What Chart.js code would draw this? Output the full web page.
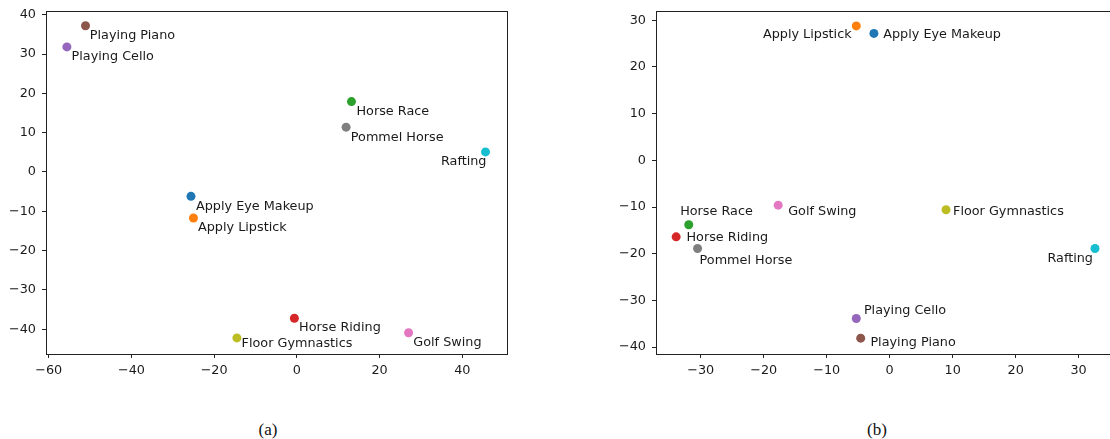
<!DOCTYPE html>
<html>
<head>
<meta charset="utf-8">
<script src="https://cdn.jsdelivr.net/npm/chart.js@4.4.1/dist/chart.umd.min.js"></script>
<style>
  html, body { margin: 0; padding: 0; background: #fff; }
  body { width: 1110px; height: 439px; position: relative; overflow: hidden; }
  .panel { position: absolute; top: 0; }
  #wrapA { left: 0; width: 520px; height: 400px; }
  #wrapB { left: 590px; width: 530px; height: 400px; }
  .caption { position: absolute; top: 420px; font-family: "Liberation Serif", "DejaVu Serif", serif;
             font-size: 17px; color: #111; transform: translateX(-50%); }
</style>
</head>
<body>
<div id="wrapA" class="panel"><canvas id="chartA"></canvas></div>
<div id="wrapB" class="panel"><canvas id="chartB"></canvas></div>
<div class="caption" style="left:268px">(a)</div>
<div class="caption" style="left:877px">(b)</div>
<script>
// Action classes, in the order their colours are assigned
const classes = ["Apply Eye Makeup", "Apply Lipstick", "Horse Race", "Horse Riding", "Playing Cello",
                 "Playing Piano", "Golf Swing", "Pommel Horse", "Floor Gymnastics", "Rafting"];
const colors = ["#1f77b4", "#ff7f0e", "#2ca02c", "#d62728", "#9467bd",
                "#8c564b", "#e377c2", "#7f7f7f", "#bcbd22", "#17becf"];

// Embedding (a)
const aX = [-25.6, -25.0, 13.2, -0.6, -55.6, -51.1, 27.0, 11.9, -14.5, 45.6];
const aY = [-6.2, -11.7, 17.9, -37.2, 31.8, 37.2, -40.9, 11.4, -42.2, 5.1];
// Embedding (b)
const bX = [-2.5, -5.3, -31.9, -33.9, -5.3, -4.6, -17.7, -30.5, 8.95, 32.6];
const bY = [27.2, 28.8, -13.8, -16.4, -33.9, -38.1, -9.6, -18.9, -10.6, -18.9];

// Tick labels
const aXTicks = [-60, -40, -20, 0, 20, 40];
const aYTicks = [-40, -30, -20, -10, 0, 10, 20, 30, 40];
const bXTicks = [-30, -20, -10, 0, 10, 20, 30];
const bYTicks = [-40, -30, -20, -10, 0, 10, 20, 30];

// Annotation placement relative to each point: [dx px, dy px, align]
const labelOffsetsA = [[5, 10, "left"], [4.5, 10, "left"], [5, 9.6, "left"], [4.7, 9.7, "left"],
  [4.7, 9.7, "left"], [4.3, 10, "left"], [4.7, 10, "left"], [4.7, 10.3, "left"],
  [4.7, 5.3, "left"], [1, 9.7, "right"]];
const labelOffsetsB = [[9.3, 1.7, "left"], [-4.7, 9, "right"], [-8.6, -13, "left"], [10.3, 0.7, "left"],
  [7.6, -8, "left"], [9.7, 4.4, "left"], [10, 6.4, "left"], [2, 12.4, "left"],
  [7, 1.7, "left"], [-2, 10.3, "right"]];

const FONT = "DejaVu Sans";
const FS = 12.8;
const INK = "#1a1a1a";

const fmt = v => (v < 0 ? "\u2212" + Math.abs(v) : String(v));

// Frame around the plotting area plus the text annotations next to points
const framePlugin = {
  id: "frameAndLabels",
  afterDatasetsDraw(chart, args, opts) {
    const { ctx, chartArea: a } = chart;
    ctx.save();
    ctx.strokeStyle = "#222";
    ctx.lineWidth = 1;
    ctx.strokeRect(Math.round(a.left) + 0.5, Math.round(a.top) + 0.5,
                   Math.round(a.right - a.left), Math.round(a.bottom - a.top));
    const meta = chart.getDatasetMeta(0);
    ctx.font = FS + "px '" + FONT + "'";
    ctx.fillStyle = INK;
    ctx.textBaseline = "middle";
    meta.data.forEach((pt, i) => {
      const [dx, dy, align] = opts.offsets[i];
      ctx.textAlign = align;
      ctx.fillText(classes[i], pt.x + dx, pt.y + dy);
    });
    ctx.restore();
  }
};

function makeChart(id, xs, ys, xr, yr, xt, yt, yWidth, pad, offsets) {
  const points = xs.map((x, i) => ({ x, y: ys[i] }));
  const tickCfg = (vals) => ({
    afterBuildTicks: s => { s.ticks = vals.map(v => ({ value: v })); }
  });
  const noPad = s => { s.paddingTop = 0; s.paddingBottom = 0; s.paddingLeft = 0; s.paddingRight = 0; };
  return new Chart(document.getElementById(id), {
    type: "scatter",
    data: {
      datasets: [{
        data: points,
        backgroundColor: colors,
        borderColor: colors,
        borderWidth: 0,
        pointRadius: 4.5,
        pointHoverRadius: 4.5
      }]
    },
    options: {
      responsive: true,
      maintainAspectRatio: false,
      animation: false,
      events: [],
      layout: { padding: pad },
      plugins: {
        legend: { display: false },
        tooltip: { enabled: false },
        frameAndLabels: { offsets }
      },
      scales: {
        x: Object.assign({
          type: "linear", min: xr[0], max: xr[1],
          grid: { display: true, drawOnChartArea: false, drawTicks: true, tickLength: 4, color: "#222", tickWidth: 1 },
          border: { display: true, color: "#222", width: 1 },
          ticks: { font: { family: FONT, size: FS }, color: INK, padding: 5, maxRotation: 0, callback: fmt },
          afterFit: s => { s.height = 46; noPad(s); }
        }, tickCfg(xt)),
        y: Object.assign({
          type: "linear", min: yr[0], max: yr[1],
          grid: { display: true, drawOnChartArea: false, drawTicks: true, tickLength: 4, color: "#222", tickWidth: 1 },
          border: { display: true, color: "#222", width: 1 },
          ticks: { font: { family: FONT, size: FS }, color: INK, padding: 6, callback: fmt },
          afterFit: s => { s.width = yWidth; noPad(s); }
        }, tickCfg(yt))
      }
    },
    plugins: [framePlugin]
  });
}

makeChart("chartA", aX, aY, [-60.65, 50.8], [-46.3, 40.94], aXTicks, aYTicks, 46,
          { top: 11, right: 13, left: 0, bottom: 0 }, labelOffsetsA);
makeChart("chartB", bX, bY, [-37.1, 35.3], [-41.5, 32.0], bXTicks, bYTicks, 66,
          { top: 11, right: 8, left: 0, bottom: 0 }, labelOffsetsB);
</script>
</body>
</html>
